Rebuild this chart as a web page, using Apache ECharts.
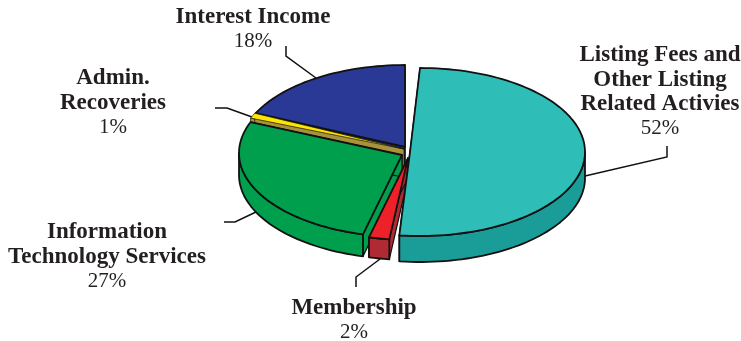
<!DOCTYPE html>
<html>
<head>
<meta charset="utf-8">
<style>html,body{margin:0;padding:0;background:#fff}#chart{width:741px;height:341px}</style>
<script src="https://cdn.jsdelivr.net/npm/echarts@6/dist/echarts.min.js"></script>
</head>
<body>
<div id="chart"></div>
<script>
// Revenue shares, clockwise from twelve o'clock
const categories = [
  ['Listing Fees and', 'Other Listing', 'Related Activies'],
  ['Membership'],
  ['Information', 'Technology Services'],
  ['Admin.', 'Recoveries'],
  ['Interest Income']
];
const shares = [52, 2, 27, 1, 18];

const topColors  = ['#2fbdb8', '#ee2028', '#009f4d', '#ffe600', '#2a3896'];
const sideColors = ['#1a9c98', '#b02a33', '#009f4d', '#a8923a', '#2a3896'];

// Each exploded wedge: centre of its rim ellipse, its tip (perspective can pull
// the tip off the ellipse centre), and how thick it is drawn
const rimCentres = [[420, 152], [410, 156], [404, 153], [404, 149], [405, 149]];
const tips = [[410, 152], [408, 158], [402, 155], [404, 149], [405, 147]];
const depths = [26, 20, 22, 22, 22];

// Text block centres and the leader lines that tie them to the wedges
const labelAnchors = [[660, 43], [354, 296], [107, 220], [113, 66], [253, 5]];
const leaders = [
  [[667, 146], [667, 157], [585, 176]],
  [[356, 287], [356, 277], [380, 259]],
  [[224, 222], [235, 222], [256, 212]],
  [[215, 108], [227, 108], [252, 117]],
  [[286, 46], [286, 56], [316, 78]]
];

const RX = 165, RY = 84;
const LINE = '#111';
const FONT = '"Liberation Serif", serif';
const TEXT = '#231f20';
const total = shares.reduce((a, b) => a + b, 0);

// Tilted-disc projection: angle is clockwise from the top of the ellipse
function rimPoint(centre, deg, drop) {
  const a = deg * Math.PI / 180;
  return [centre[0] + RX * Math.sin(a), centre[1] - RY * Math.cos(a) + (drop || 0)];
}
function arcPoints(centre, from, to, drop) {
  const n = Math.max(2, Math.ceil((to - from) / 2));
  const pts = [];
  for (let i = 0; i <= n; i++) pts.push(rimPoint(centre, from + (to - from) * i / n, drop));
  return pts;
}
function poly(points, fill, width) {
  return {
    type: 'polygon',
    shape: { points },
    style: { fill, stroke: LINE, lineWidth: width, lineJoin: 'round' }
  };
}

function renderWedge(params, api) {
  const i = api.value(1);
  const from = api.value(2), to = api.value(3);
  const centre = rimCentres[i];
  const tip = tips[i];
  const depth = depths[i];
  const tipLow = [tip[0], tip[1] + depth];
  const children = [];
  const sliver = shares[i] <= 1;

  // cut faces along both radial edges
  [from, to].forEach(function (deg) {
    children.push(poly([tip, rimPoint(centre, deg), rimPoint(centre, deg, depth), tipLow], sideColors[i], sliver ? 0.7 : 1.2));
  });
  // outer wall, only on the half of the rim facing the viewer
  const wallFrom = Math.max(from, 90), wallTo = Math.min(to, 270);
  if (wallTo > wallFrom) {
    const upper = arcPoints(centre, wallFrom, wallTo, 0);
    const lower = arcPoints(centre, wallFrom, wallTo, depth).reverse();
    children.push(poly(upper.concat(lower), sideColors[i], 1.8));
  }
  // top face
  children.push(poly([tip].concat(arcPoints(centre, from, to, 0)), topColors[i], sliver ? 0.7 : 1.8));
  return { type: 'group', children };
}

// Cumulative sweep of each wedge; painted far to near
let cursor = 0;
const wedgeRows = shares.map(function (v, i) {
  const from = cursor / total * 360;
  cursor += v;
  return [v, i, from, cursor / total * 360];
});
const paintOrder = [4, 3, 2, 1, 0].map(function (i) { return wedgeRows[i]; });

const textBlocks = categories.map(function (lines, i) {
  return {
    type: 'text',
    x: labelAnchors[i][0],
    y: labelAnchors[i][1],
    style: {
      text: lines.map(function (l) { return '{b|' + l + '}'; }).join('\n') + '\n{p|' + shares[i] + '%}',
      align: 'center',
      verticalAlign: 'top',
      rich: {
        b: { font: 'bold 23px ' + FONT, fill: TEXT, lineHeight: 24.5, align: 'center' },
        p: { font: '21px ' + FONT, fill: TEXT, lineHeight: 24.5, align: 'center' }
      }
    }
  };
});
const leaderLines = leaders.map(function (points) {
  return {
    type: 'polyline',
    shape: { points },
    style: { stroke: LINE, lineWidth: 1.5, fill: null }
  };
});

const chart = echarts.init(document.getElementById('chart'), null, { renderer: 'canvas' });
chart.setOption({
  animation: false,
  backgroundColor: '#fff',
  series: [{
    type: 'custom',
    coordinateSystem: 'none',
    renderItem: renderWedge,
    data: paintOrder,
    silent: true
  }],
  graphic: textBlocks.concat(leaderLines)
});
</script>
</body>
</html>
